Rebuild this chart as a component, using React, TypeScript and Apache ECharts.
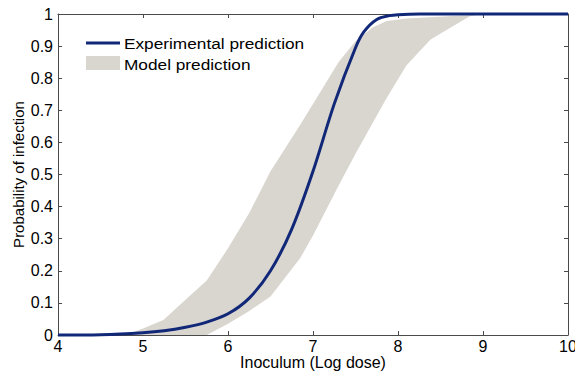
import React, { useEffect, useRef } from "react";
import * as echarts from "echarts";

// Model prediction band (x grid, lower and upper bounds)
const bandX = [4, 4.5, 4.8, 5.0, 5.24, 5.5, 5.75, 6.0, 6.25, 6.5, 6.85, 7.0, 7.3, 7.5, 7.7, 7.87, 8.1, 8.38, 8.6, 8.85, 9, 10];
const bandLower = [0, 0, 0, 0, 0, 0, 0, 0.035, 0.075, 0.12, 0.24, 0.31, 0.465, 0.565, 0.66, 0.74, 0.84, 0.92, 0.955, 0.994, 1, 1];
const bandUpper = [0, 0, 0, 0.02, 0.047, 0.11, 0.17, 0.27, 0.38, 0.51, 0.655, 0.72, 0.85, 0.915, 0.958, 0.978, 0.986, 0.99, 0.993, 0.996, 1, 1];

// Experimental prediction curve
const expX = [4, 4.5, 5, 5.25, 5.5, 5.75, 6, 6.25, 6.5, 6.75, 7, 7.25, 7.5, 7.6, 7.75, 7.9, 8, 8.25, 8.5, 10];
const expY = [0, 0.001, 0.007, 0.013, 0.024, 0.04, 0.066, 0.115, 0.2, 0.33, 0.51, 0.72, 0.895, 0.945, 0.983, 0.995, 0.998, 1, 1, 1];

const legendLabels = ["Experimental prediction", "Model prediction"];
const xName = "Inoculum (Log dose)";
const yName = "Probability of infection";

const FONT = "'Liberation Sans', Arial, sans-serif";
const NAVY = "#112878";
const BAND = "#d9d5cf";
const AXIS = "#4a4a4a";

export default function App() {
  const ref = useRef<HTMLDivElement>(null);
  useEffect(() => {
    if (!ref.current) return;
    const chart = echarts.init(ref.current, null, { renderer: "svg" });
    const tickStyle = { inside: true, length: 4, lineStyle: { color: AXIS } };
    chart.setOption({
      animation: false,
      grid: { left: 58, right: 7, top: 14, bottom: 37, containLabel: false, outerBoundsMode: "none" },
      xAxis: [
        {
          type: "value", min: 4, max: 10, interval: 1,
          name: xName, nameLocation: "middle", nameGap: 19, nameMoveOverlap: false,
          nameTextStyle: { fontFamily: FONT, fontSize: 16, color: "#000", lineHeight: 16 },
          axisLine: { show: true, onZero: false, lineStyle: { color: AXIS } },
          axisTick: tickStyle,
          axisLabel: { fontFamily: FONT, fontSize: 16, color: "#000", margin: 3 },
          splitLine: { show: false },
        },
        {
          type: "value", min: 4, max: 10, interval: 1, position: "top",
          axisLine: { show: true, onZero: false, lineStyle: { color: AXIS } },
          axisTick: tickStyle, axisLabel: { show: false }, splitLine: { show: false },
        },
      ],
      yAxis: [
        {
          type: "value", min: 0, max: 1, interval: 0.1,
          name: yName, nameLocation: "middle", nameGap: 32, nameMoveOverlap: false,
          nameTextStyle: { fontFamily: FONT, fontSize: 15, color: "#000" },
          axisLine: { show: true, onZero: false, lineStyle: { color: AXIS } },
          axisTick: tickStyle,
          axisLabel: { fontFamily: FONT, fontSize: 16, color: "#000", margin: 5 },
          splitLine: { show: false },
        },
        {
          type: "value", min: 0, max: 1, interval: 0.1, position: "right",
          axisLine: { show: true, onZero: false, lineStyle: { color: AXIS } },
          axisTick: tickStyle, axisLabel: { show: false }, splitLine: { show: false },
        },
      ],
      series: [
        {
          type: "custom",
          data: [0],
          z: 1,
          clip: true,
          renderItem: (params: any, api: any) => {
            const pts: number[][] = [];
            for (let i = 0; i < bandX.length; i++) pts.push(api.coord([bandX[i], bandUpper[i]]));
            for (let i = bandX.length - 1; i >= 0; i--) pts.push(api.coord([bandX[i], bandLower[i]]));
            return {
              type: "polygon",
              shape: { points: pts },
              style: { fill: BAND, stroke: "none" },
            };
          },
        },
        {
          type: "line", symbol: "none", smooth: 0.3, clip: false,
          data: expX.map((x, i) => [x, expY[i]]),
          lineStyle: { color: NAVY, width: 3 },
          z: 3,
        },
      ],
      graphic: [
        { type: "line", shape: { x1: 86, y1: 43, x2: 120, y2: 43 }, style: { stroke: NAVY, lineWidth: 3 } },
        { type: "text", x: 124, y: 43, scaleX: 1.15, style: { text: legendLabels[0], font: `15px ${FONT}`, fill: "#000", verticalAlign: "middle" } },
        { type: "rect", shape: { x: 86, y: 56, width: 34, height: 14 }, style: { fill: BAND } },
        { type: "text", x: 124, y: 64, scaleX: 1.15, style: { text: legendLabels[1], font: `15px ${FONT}`, fill: "#000", verticalAlign: "middle" } },
      ],
    });
    return () => chart.dispose();
  }, []);
  return <div ref={ref} style={{ width: 575, height: 372, position: "absolute", left: 0, top: 0 }} />;
}
